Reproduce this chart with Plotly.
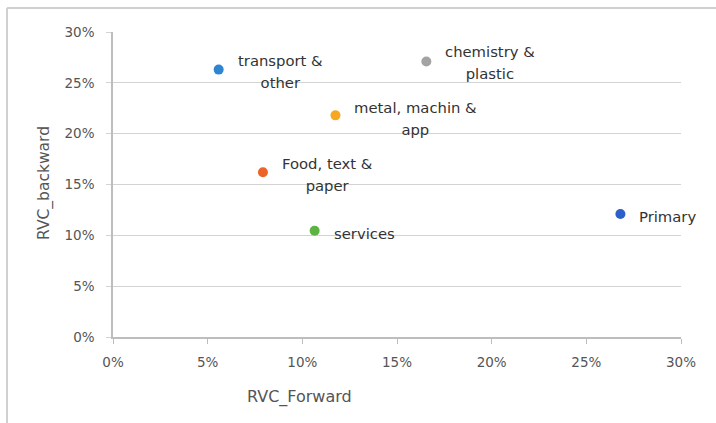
import plotly.graph_objects as go

sectors = [["transport &", "other"], ["Food, text &", "paper"], ["metal, machin &", "app"],
           ["chemistry &", "plastic"], ["services"], ["Primary"]]
rvc_forward = [0.0558, 0.0792, 0.1175, 0.1655, 0.1065, 0.268]
rvc_backward = [0.263, 0.162, 0.218, 0.271, 0.1045, 0.121]
colors = ["#2E86D1", "#EB6428", "#F7A823", "#A3A3A3", "#5DB341", "#2B5FC9"]
label_yshift = [-2, -2, -3, -1, -3, -3]

x_ticks = [0, 0.05, 0.10, 0.15, 0.20, 0.25, 0.30]
y_ticks = [0, 0.05, 0.10, 0.15, 0.20, 0.25, 0.30]

FONT = "DejaVu Sans"

fig = go.Figure()
fig.add_trace(go.Scatter(
    x=rvc_forward, y=rvc_backward, mode="markers",
    marker=dict(size=10, color=colors), showlegend=False, hoverinfo="skip"))

for sx, sy, lines, ys in zip(rvc_forward, rvc_backward, sectors, label_yshift):
    txt = "<br>".join(f"<span style='font-size:14.8px'>{ln}</span>" for ln in lines)
    fig.add_annotation(x=sx, y=sy, text=txt, showarrow=False, xanchor="left",
                       yanchor="middle", align="center", xshift=17, yshift=ys,
                       font=dict(family=FONT, size=17, color="#333333"))

axis_font = dict(family=FONT, size=13.5, color="#555555")
fig.update_xaxes(range=[0, 0.30], tickvals=x_ticks, tickformat=".0%",
                 showgrid=False, zeroline=False, showline=True, linecolor="#BDBDBD",
                 linewidth=1.5, ticks="outside", ticklen=5, tickcolor="#BDBDBD",
                 tickfont=axis_font, ticklabelstandoff=7)
fig.update_yaxes(range=[0, 0.30], tickvals=y_ticks, tickformat=".0%",
                 showgrid=True, gridcolor="#D3D3D3", gridwidth=1.2, zeroline=False,
                 showline=True, linecolor="#BDBDBD", linewidth=1.5,
                 ticks="outside", ticklen=5, tickcolor="#D3D3D3",
                 tickfont=axis_font, ticklabelstandoff=9)

W, H = 716, 423
L, R, T, B = 113, 35, 32, 86
pw, ph = W - L - R, H - T - B

def px(xp):
    return (xp - L) / pw

def py(yp):
    return (H - B - yp) / ph

fig.add_annotation(x=px(299), y=py(397), xref="paper", yref="paper", text="RVC_Forward",
                   showarrow=False, xanchor="center", yanchor="middle",
                   font=dict(family=FONT, size=16, color="#555555"))
fig.add_annotation(x=px(45), y=py(183), xref="paper", yref="paper", text="RVC_backward",
                   showarrow=False, xanchor="center", yanchor="middle", textangle=-90,
                   font=dict(family=FONT, size=15.5, color="#555555"))

fig.add_shape(type="line", xref="paper", yref="paper", x0=px(7), x1=px(716),
              y0=py(8), y1=py(8), line=dict(color="#D0D0D0", width=2))
fig.add_shape(type="line", xref="paper", yref="paper", x0=px(7), x1=px(7),
              y0=py(8), y1=py(423), line=dict(color="#D0D0D0", width=2))

fig.update_layout(width=W, height=H, margin=dict(l=L, r=R, t=T, b=B),
                  paper_bgcolor="white", plot_bgcolor="white")

fig.write_html("out.html")
